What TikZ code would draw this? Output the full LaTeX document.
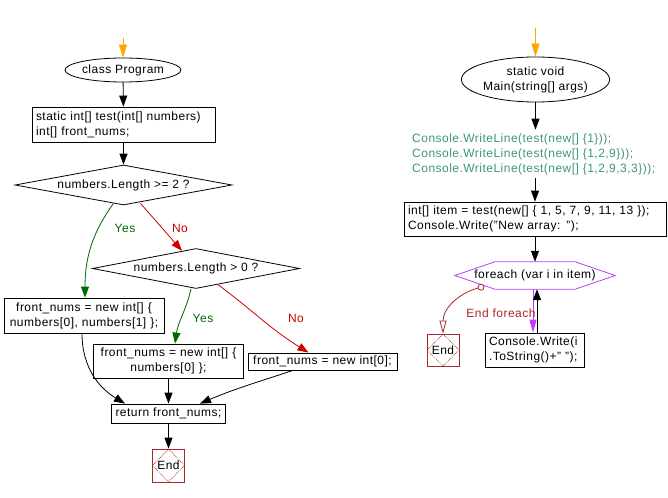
\documentclass[tikz,border=0pt]{standalone}
\usepackage{fontspec}
\setmainfont{Liberation Sans}[LetterSpace=4]
\usetikzlibrary{shapes.geometric,arrows.meta}
\definecolor{yesgreen}{RGB}{0,102,0}
\definecolor{nored}{RGB}{204,0,0}
\definecolor{endred}{RGB}{165,42,42}
\definecolor{codegreen}{RGB}{64,150,115}
\definecolor{loopviolet}{RGB}{190,60,255}
\definecolor{startorange}{RGB}{255,165,0}
\begin{document}
\begin{tikzpicture}[x=1pt,y=-1pt,font=\fontsize{12}{15}\selectfont,
  lw/.style={line width=0.8pt},
  arr/.style={lw,-{Triangle[length=11pt,width=8pt]}},
  garr/.style={arr,yesgreen},
  rarr/.style={arr,nored},
  oarr/.style={lw,startorange,-{Triangle[length=13pt,width=8pt]}},
  pbox/.style={draw,lw,inner xsep=4pt,inner ysep=0pt},
  term/.style={draw,lw,ellipse,inner sep=0pt,align=center},
  decision/.style={draw,lw,diamond,inner sep=0pt},
  endbox/.style={draw=endred,lw,minimum width=32pt,minimum height=33pt,inner sep=0pt,
    path picture={\draw[endred,densely dotted,line width=0.7pt]
      (path picture bounding box.north) -- (path picture bounding box.east) --
      (path picture bounding box.south) -- (path picture bounding box.west) -- cycle;}},
  ylabel/.style={text=yesgreen},
  nlabel/.style={text=nored}]
\useasboundingbox (0,0) rectangle (668,497);

% ---------------- left flow ----------------
\node[term,minimum width=100pt,minimum height=24pt] (prog) at (123,70) {class Program};
\node[pbox,text width=175pt,align=left,minimum height=35pt] (box1) at (123.5,124.5)
  {static int[] test(int[] numbers)\\int[] front\_nums;};
\node[decision,minimum width=217pt,minimum height=40pt,aspect=5.4] (d1) at (123.5,185)
  {numbers.Length >= 2 ?};
\node[decision,minimum width=207pt,minimum height=40pt,aspect=5.2] (d2) at (196,268.5)
  {numbers.Length > 0 ?};
\node[pbox,text width=152pt,align=center,minimum height=35pt] (boxA) at (84,315.5)
  {front\_nums = new int[] \{\\numbers[0], numbers[1] \};};
\node[pbox,text width=142pt,align=center,minimum height=34pt] (boxB) at (168.5,361)
  {front\_nums = new int[] \{\\numbers[0] \};};
\node[pbox,text width=141pt,align=center,minimum height=17pt] (boxC) at (322.5,361.5)
  {front\_nums = new int[0];};
\node[pbox,text width=106pt,align=left,minimum height=19pt] (ret) at (168.5,413.5)
  {return front\_nums;};
\node[endbox] (end1) at (168.5,465.5) {End};

\coordinate (s1) at (123,38);
\draw[oarr] (s1) -- (prog.north);
\draw[arr] (prog) -- (box1);
\draw[arr] (box1) -- (d1);
\draw[garr] ([xshift=-10pt,yshift=2pt]d1.south) .. controls +(-18,25) and +(0,-45) .. ([xshift=1pt]boxA.north);
\draw[rarr] ([xshift=17pt,yshift=2pt]d1.south) -- ([xshift=-14pt,yshift=-2.7pt]d2.north);
\draw[garr] ([xshift=-5pt]d2.south) .. controls +(-5,22) and +(3,-22) .. ([xshift=6.5pt]boxB.north);
\draw[rarr] ([xshift=22pt,yshift=4.25pt]d2.south) .. controls +(40,30) and +(-40,-25) .. ([xshift=-14pt]boxC.north);
\draw[arr] ([xshift=-2pt]boxA.south) .. controls +(0,35) and +(-25,-15) .. ([xshift=-43.5pt]ret.north);
\draw[arr] (boxB) -- (ret);
\draw[arr] ([xshift=-29.5pt]boxC.south) .. controls +(-30,10) and +(35,-15) .. ([xshift=31.5pt]ret.north);
\draw[arr] (ret) -- (end1);

\node[ylabel] (y1) at (125,228) {Yes};
\node[nlabel] (n1) at (180,228) {No};
\node[ylabel] (y2) at (203,318) {Yes};
\node[nlabel] (n2) at (296,318) {No};

% ---------------- right flow ----------------
\node[term,minimum width=129pt,minimum height=45pt] (main) at (535.5,79.5)
  {static void\\Main(string[] args)};
\node[text=codegreen,align=left,inner xsep=0pt,inner ysep=3.5pt,anchor=west] (calls) at (412,154)
  {Console.WriteLine(test(new[] \{1\}));\\
   Console.WriteLine(test(new[] \{1,2,9\}));\\
   Console.WriteLine(test(new[] \{1,2,9,3,3\}));};
\node[pbox,text width=254pt,align=left,minimum height=34pt] (box2) at (535,219)
  {int[] item = test(new[] \{ 1, 5, 7, 9, 11, 13 \});\\Console.Write("New array: ");};
\node[inner sep=0pt,minimum width=160pt,minimum height=27pt] (loop) at (535,275.5)
  {foreach (var i in item)};
\draw[loopviolet,lw] (loop.west) -- ([xshift=40pt]loop.north west) -- ([xshift=-40pt]loop.north east)
  -- (loop.east) -- ([xshift=-40pt]loop.south east) -- ([xshift=40pt]loop.south west) -- cycle;
\node[pbox,text width=91pt,align=left,minimum height=34pt] (cw) at (534.5,350)
  {Console.Write(i\\.ToString()+" ");};
\node[endbox,minimum height=32pt] (end2) at (443,350) {End};

\coordinate (s2) at (535.5,28);
\draw[oarr] (s2) -- (main.north);
\draw[arr] (main.south) -- (main.south |- calls.north);
\draw[arr] (box2.north |- calls.south) -- (box2.north);
\draw[arr] (box2) -- (loop);
\draw[lw,loopviolet,-{Triangle[length=13pt,width=7pt]}] ([xshift=-2pt]loop.south) -- ([xshift=-1.5pt]cw.north);
\draw[arr,line width=1pt] ([xshift=2.5pt]cw.north) -- ([xshift=2pt]loop.south);
\coordinate (endc) at ([xshift=-54pt,yshift=2pt]loop.south);
\draw[endred,lw,-{Triangle[open,length=13pt,width=7pt,fill=white]}] (endc) .. controls +(-22,5) and +(0,-25) .. (end2.north);
\draw[endred,lw,fill=white] (endc) circle (3pt);
\node[text=endred] (ef) at (501,313) {End foreach};
\end{tikzpicture}
\end{document}
